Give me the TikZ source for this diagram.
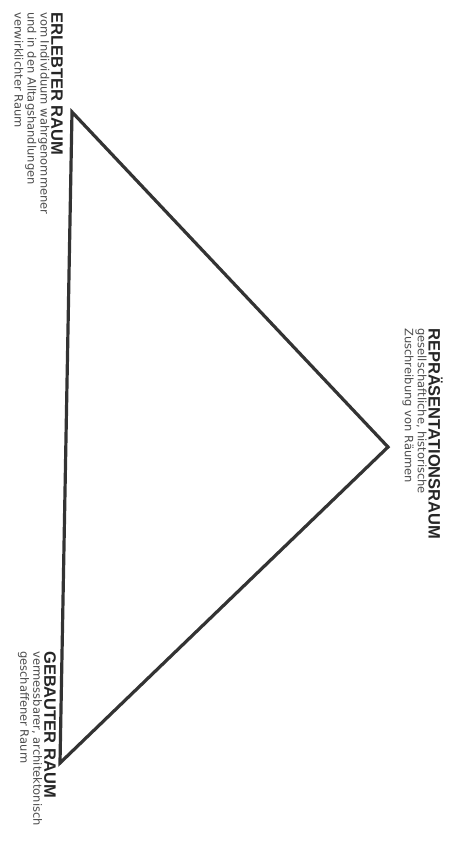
\documentclass[tikz,border=0pt]{standalone}
\usepackage{fontspec}
\setmainfont{Liberation Sans}
\newfontfamily\subfont{DejaVu Sans}
\begin{document}
\begin{tikzpicture}[x=1pt,y=-1pt,
  lbl/.style={rotate=-90, anchor=north west, inner sep=0pt, align=left},
  headtxt/.style={lbl, text=black!85, font=\bfseries\fontsize{16.5}{17}\selectfont},
  subtxt/.style={lbl, text=black!70, font=\subfont\fontsize{11.5}{13}\selectfont},
  edge/.style={line width=3.2pt, draw=black!80, line join=miter}]
\useasboundingbox (0,0) rectangle (452,851);
\fill[white] (0,0) rectangle (452,851);
\coordinate (E) at (72,112);
\coordinate (R) at (388,447);
\coordinate (G) at (60,763);
\draw[edge] (E) -- (R) -- (G) -- cycle;
% Erlebter Raum
\node[headtxt] (eh) at (63,12) {ERLEBTER RAUM};
\node[subtxt] (es) at ([xshift=-1.5pt]eh.south west) {vom Individuum wahrgenommener\\und in den Alltagshandlungen\\verwirklichter Raum};
% Repraesentationsraum
\node[headtxt] (rh) at (443,328) {REPRÄSENTATIONSRAUM};
\node[subtxt] (rs) at ([xshift=-1.5pt]rh.south west) {gesellschaftliche, historische\\Zuschreibung von Räumen};
% Gebauter Raum
\node[headtxt] (gh) at (56,651) {GEBAUTER RAUM};
\node[subtxt] (gs) at ([xshift=-1.5pt]gh.south west) {vermessbarer, architektonisch\\geschaffener Raum};
\end{tikzpicture}
\end{document}
